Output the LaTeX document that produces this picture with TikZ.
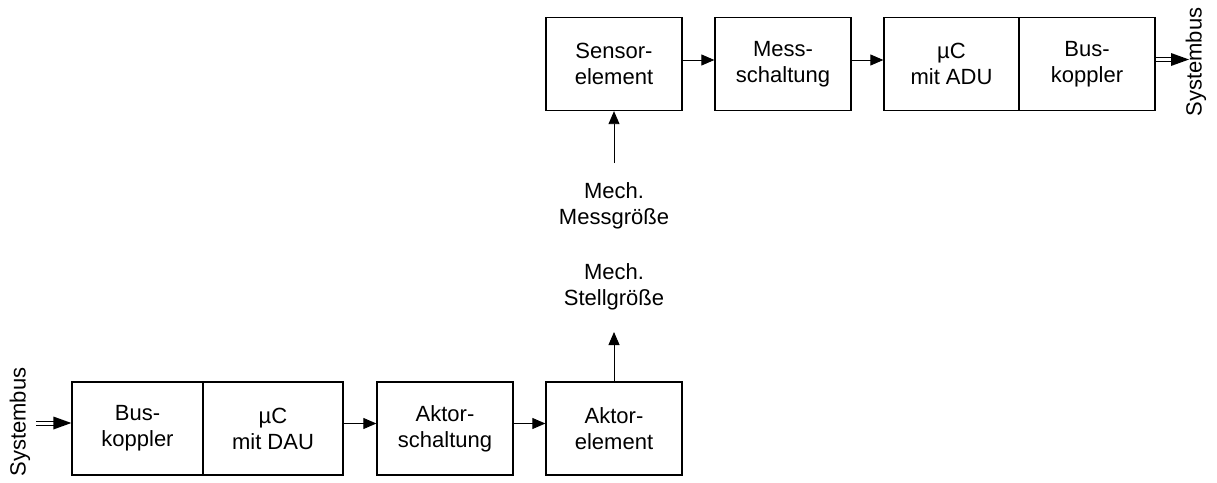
\documentclass[tikz,border=0pt]{standalone}
\usepackage{fontspec}
\setmainfont{Liberation Sans}
\usetikzlibrary{arrows.meta}
\begin{document}
\begin{tikzpicture}[x=1pt,y=-1pt,
  every node/.style={font=\fontsize{22}{26}\selectfont},
  blockbox/.style={draw, line width=1.3pt, minimum height=93pt, inner sep=0pt, align=center},
  sig/.style={line width=0.9pt, -{Triangle[length=13pt,width=11pt]}},
  dblline/.style={line width=0.8pt},
  dbltip/.style={fill=black},
  lbl/.style={align=center, inner sep=0pt}]
\useasboundingbox (0,0) rectangle (1217,482);
% top row
\node[blockbox, minimum width=136pt] (sens) at (614,64) {Sensor-\\element};
\node[blockbox, minimum width=136pt] (mess) at (783,64) {Mess-\\schaltung};
\node[blockbox, minimum width=135pt] (ucA) at (951.5,64) {µC\\mit ADU};
\node[blockbox, minimum width=136pt] (bkA) at (1087,64) {Bus-\\koppler};
% bottom row
\node[blockbox, minimum width=131pt] (bkD) at (137.5,428.5) {Bus-\\koppler};
\node[blockbox, minimum width=140pt] (ucD) at (273,428.5) {µC\\mit DAU};
\node[blockbox, minimum width=136pt] (aks) at (445,428.5) {Aktor-\\schaltung};
\node[blockbox, minimum width=136pt] (ake) at (614,428.5) {Aktor-\\element};
% labels
\node[lbl] (messg) at (614,206) {Mech.\\Messgröße};
\node[lbl] (stellg) at (614,287) {Mech.\\Stellgröße};
\node[rotate=90, inner sep=0pt] (sbR) at (1196,62) {Systembus};
\node[rotate=90, inner sep=0pt] (sbL) at (20,422) {Systembus};
% arrows top
\draw[sig] ([yshift=4pt]sens.east) -- ([yshift=4pt]mess.west);
\draw[sig] ([yshift=4pt]mess.east) -- ([yshift=4pt]ucA.west);
% arrows bottom
\draw[sig] ([yshift=5pt]ucD.east) -- ([yshift=5pt]aks.west);
\draw[sig] ([yshift=5pt]aks.east) -- ([yshift=5pt]ake.west);
% vertical
\coordinate (sensIn) at (614,163);
\coordinate (akeOut) at (614,332);
\draw[sig] (sensIn) -- (sens.south);
\draw[sig] (ake.north) -- (akeOut);
% double arrow right
\coordinate (dRa) at (1154,59.5);
\coordinate (dRb) at (1189,59.5);
\draw[dblline] ([yshift=2pt]dRa) -- ([yshift=2pt,xshift=-16pt]dRb);
\draw[dblline] ([yshift=-2pt]dRa) -- ([yshift=-2pt,xshift=-16pt]dRb);
\fill[dbltip] (dRb) -- ++(-18,-6.5) -- ++(0,13) -- cycle;
% double arrow left
\coordinate (dLa) at (36,423);
\coordinate (dLb) at (bkD.west |- dLa);
\draw[dblline] ([yshift=2pt]dLa) -- ([yshift=2pt,xshift=-16pt]dLb);
\draw[dblline] ([yshift=-2pt]dLa) -- ([yshift=-2pt,xshift=-16pt]dLb);
\fill[dbltip] (dLb) -- ++(-18,-6.5) -- ++(0,13) -- cycle;
\end{tikzpicture}
\end{document}
